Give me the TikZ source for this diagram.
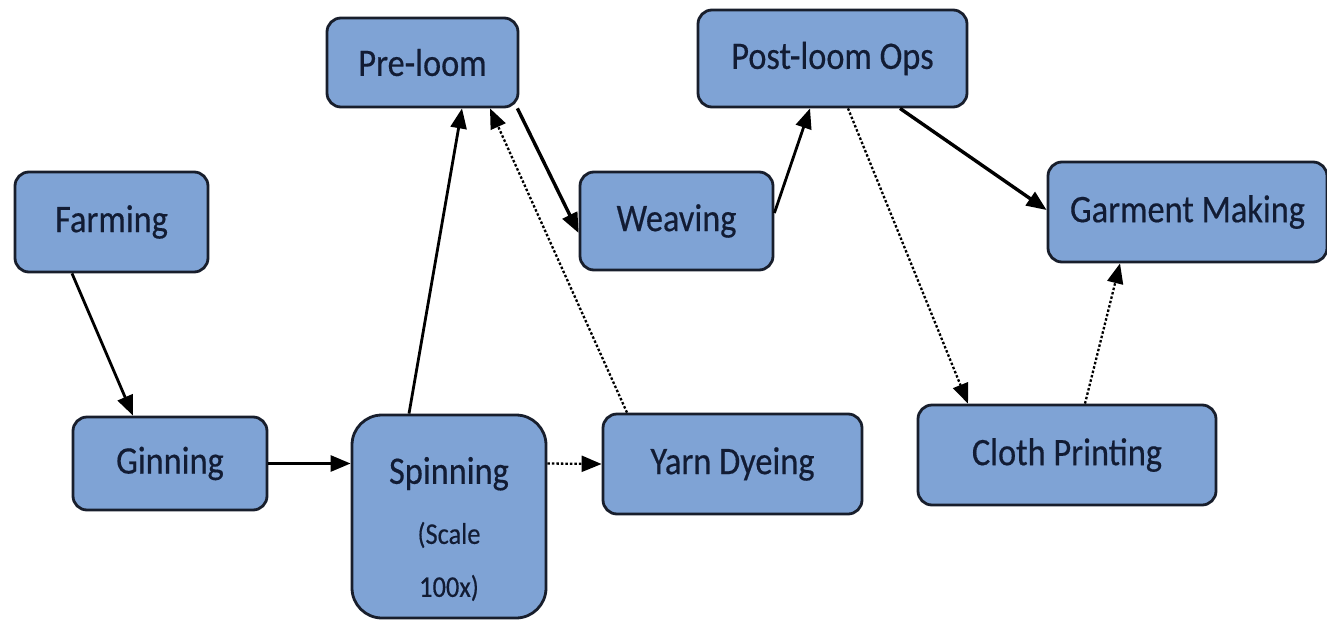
\documentclass[tikz,border=0pt]{standalone}
\usepackage{fontspec}
\setmainfont{Carlito}[FakeStretch=0.88,FakeBold=0.4]
\usetikzlibrary{arrows.meta}
\definecolor{boxfill}{RGB}{127,163,213}
\definecolor{boxline}{RGB}{24,30,44}
\definecolor{boxtext}{RGB}{18,28,52}
\tikzset{
  box/.style={draw=boxline, line width=2.8pt, fill=boxfill, rounded corners=14pt,
    text=boxtext, font=\fontsize{39}{40}\selectfont, inner sep=0pt},
  flow/.style={draw=black, line width=2.8pt, -{Triangle[length=20pt,width=16pt]}},
  flowthick/.style={flow, line width=3.4pt},
  dotflow/.style={draw=black, line width=2.3pt, dash pattern=on 2.5pt off 2pt, -{Triangle[length=20pt,width=16pt]}},
}
\begin{document}
\begin{tikzpicture}[x=1pt,y=-1pt]
\useasboundingbox[fill=white] (0,0) rectangle (1327,621);
\node[box, minimum width=193pt, minimum height=100pt] (farm) at (111.5,222) {Farming};
\node[box, minimum width=194pt, minimum height=93pt] (gin) at (170,463.5) {Ginning};
\node[box, minimum width=194pt, minimum height=203pt, rounded corners=30pt] (spin) at (449,516.5) {};
\node[text=boxtext, align=center, inner sep=0pt, font=\fontsize{39}{40}\selectfont] (spintext) at (449,529)
  {Spinning\\[20pt]{\fontsize{30}{40}\selectfont (Scale}\\[13pt]{\fontsize{30}{40}\selectfont 100x)}};
\node[box, minimum width=259pt, minimum height=100pt] (dye) at (732.5,464) {Yarn Dyeing};
\node[box, minimum width=191pt, minimum height=89pt] (pre) at (422.5,62.5) {Pre-loom};
\node[box, minimum width=193pt, minimum height=98pt] (weav) at (676.5,221) {Weaving};
\node[box, minimum width=269pt, minimum height=97pt] (post) at (832.5,58.5) {Post-loom Ops};
\node[box, minimum width=279pt, minimum height=100pt] (garm) at (1187.5,212) {Garment Making};
\node[box, minimum width=298pt, minimum height=100pt] (cloth) at (1067,455) {Cloth Printing};

\draw[flow] ([xshift=-39.5pt]farm.south) -- ([xshift=-37pt]gin.north);
\draw[flow] (gin.east) -- ([yshift=53pt]spin.west);
\draw[flow] ([xshift=-40pt]spin.north) -- ([xshift=39.5pt]pre.south);
\draw[dotflow] ([yshift=53pt]spin.east) -- (dye.west);
\draw[dotflow] ([xshift=-105.5pt]dye.north) -- ([xshift=67.5pt]pre.south);
\draw[flowthick] ([xshift=-2pt]pre.south east) -- ([yshift=-12pt]weav.west);
\draw[flow] ([yshift=8pt]weav.east) -- ([xshift=-22.5pt]post.south);
\draw[flowthick] ([xshift=67.5pt]post.south) -- ([yshift=2pt]garm.west);
\draw[dotflow] ([xshift=15.5pt]post.south) -- ([xshift=-99pt]cloth.north);
\draw[dotflow] ([xshift=18pt]cloth.north) -- ([xshift=-67.5pt]garm.south);
\end{tikzpicture}
\end{document}
